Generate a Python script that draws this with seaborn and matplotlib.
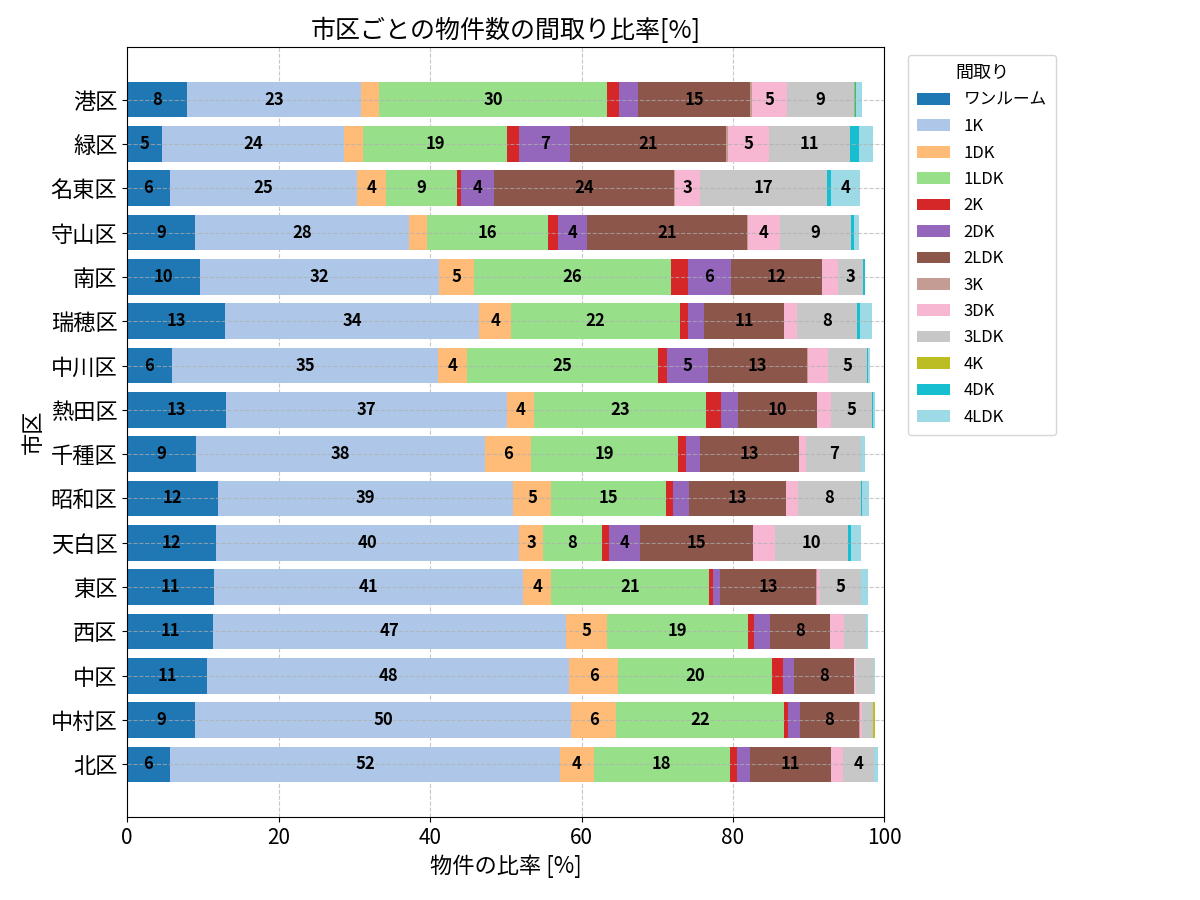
import numpy as np
import pandas as pd
import matplotlib
matplotlib.use("Agg")
import matplotlib.pyplot as plt
import seaborn as sns
from matplotlib.patches import Patch

wards = ["港区", "緑区", "名東区", "守山区", "南区", "瑞穂区", "中川区", "熱田区",
         "千種区", "昭和区", "天白区", "東区", "西区", "中区", "中村区", "北区"]
layouts = ["ワンルーム", "1K", "1DK", "1LDK", "2K", "2DK", "2LDK",
           "3K", "3DK", "3LDK", "4K", "4DK", "4LDK"]
colors = ["#1f77b4", "#aec7e8", "#ffbb78", "#98df8a", "#d62728", "#9467bd",
          "#8c564b", "#c49c94", "#f7b6d2", "#c7c7c7", "#bcbd22", "#17becf", "#9edae5"]

one_room = [7.9, 4.6, 5.6, 8.9, 9.6, 12.9, 5.9, 13.0, 9.1, 12.0, 11.7, 11.4, 11.3, 10.6, 9.0, 5.6]
k1 = [23.0, 24.0, 24.8, 28.3, 31.6, 33.6, 35.2, 37.1, 38.2, 39.0, 40.1, 40.9, 46.7, 47.8, 49.6, 51.6]
dk1 = [2.4, 2.6, 3.8, 2.4, 4.6, 4.2, 3.8, 3.6, 6.0, 5.0, 3.1, 3.7, 5.4, 6.4, 6.0, 4.4]
ldk1 = [30.0, 19.0, 9.4, 16.0, 26.0, 22.3, 25.2, 22.8, 19.4, 15.2, 7.8, 20.9, 18.6, 20.4, 22.1, 18.0]
k2 = [1.7, 1.6, 0.5, 1.3, 2.3, 1.0, 1.2, 1.9, 1.1, 0.9, 0.9, 0.45, 0.8, 1.4, 0.6, 0.9]
dk2 = [2.5, 6.7, 4.3, 3.8, 5.6, 2.2, 5.4, 2.3, 1.8, 2.1, 4.1, 1.0, 2.1, 1.5, 1.5, 1.75]
ldk2 = [14.8, 20.6, 23.8, 21.2, 12.1, 10.6, 13.1, 10.4, 13.1, 12.8, 15.0, 12.6, 7.9, 7.9, 7.9, 10.7]
k3 = [0.2, 0.2, 0.2, 0.1, 0.0, 0.0, 0.1, 0.0, 0.0, 0.0, 0.0, 0.1, 0.0, 0.0, 0.1, 0.0]
dk3 = [4.6, 5.4, 3.2, 4.2, 2.1, 1.6, 2.7, 1.9, 0.95, 1.6, 2.8, 0.4, 1.9, 0.2, 0.3, 1.6]
ldk3 = [8.9, 10.8, 16.8, 9.4, 3.3, 8.0, 5.1, 5.3, 7.3, 8.3, 9.7, 5.4, 2.9, 2.4, 1.35, 4.1]
k4 = [0.1, 0.0, 0.0, 0.0, 0.0, 0.0, 0.0, 0.1, 0.0, 0.0, 0.0, 0.0, 0.0, 0.0, 0.25, 0.0]
dk4 = [0.2, 1.1, 0.5, 0.4, 0.3, 0.4, 0.15, 0.1, 0.0, 0.15, 0.4, 0.0, 0.0, 0.0, 0.0, 0.0]
ldk4 = [0.8, 1.9, 3.9, 0.7, 0.0, 1.6, 0.25, 0.3, 0.5, 0.95, 1.3, 0.95, 0.25, 0.15, 0.0, 0.55]

series = [one_room, k1, dk1, ldk1, k2, dk2, ldk2, k3, dk3, ldk3, k4, dk4, ldk4]

plt.rcParams['font.family'] = ['Noto Sans CJK JP', 'DejaVu Sans']

df = pd.DataFrame({name: vals for name, vals in zip(layouts, series)}, index=wards)
cum = df.cumsum(axis=1)

fig = plt.figure(figsize=(12, 9), dpi=100)
ax = fig.add_axes([0.106, 0.092, 0.631, 0.856])

for j in range(len(layouts) - 1, -1, -1):
    sns.barplot(x=cum.iloc[:, j].values, y=wards, order=wards, orient='h',
                color=colors[j], saturation=1, width=0.8, linewidth=0,
                errorbar=None, ax=ax)

for i, ward in enumerate(wards):
    left = 0.0
    for name in layouts:
        v = df.loc[ward, name]
        if v >= 3:
            ax.text(left + v / 2, i, f"{v:.0f}", ha='center', va='center',
                    fontsize=12, fontweight='bold', color='black', zorder=4)
        left += v

ax.set_xlim(0, 100)
ax.set_xticks(range(0, 101, 20))
ax.set_ylim(len(wards) - 1 + 1.19, -1.19)
ax.tick_params(axis='y', labelsize=16)
ax.tick_params(axis='x', labelsize=15)
ax.set_xlabel("物件の比率 [%]", fontsize=16)
ax.set_ylabel("市区", fontsize=16)
ax.set_title("市区ごとの物件数の間取り比率[%]", fontsize=18)

ax.set_axisbelow(True)
ax.grid(True, linestyle='--', alpha=0.7)
ax.yaxis.set_zorder(2.5)

handles = [Patch(facecolor=c, label=l) for c, l in zip(colors, layouts)]
ax.legend(handles=handles, title="間取り", bbox_to_anchor=(1.02, 1), loc='upper left',
          fontsize=12, title_fontsize=13, labelspacing=0.565, borderpad=0.55)

fig.savefig("out.png", dpi=100)
